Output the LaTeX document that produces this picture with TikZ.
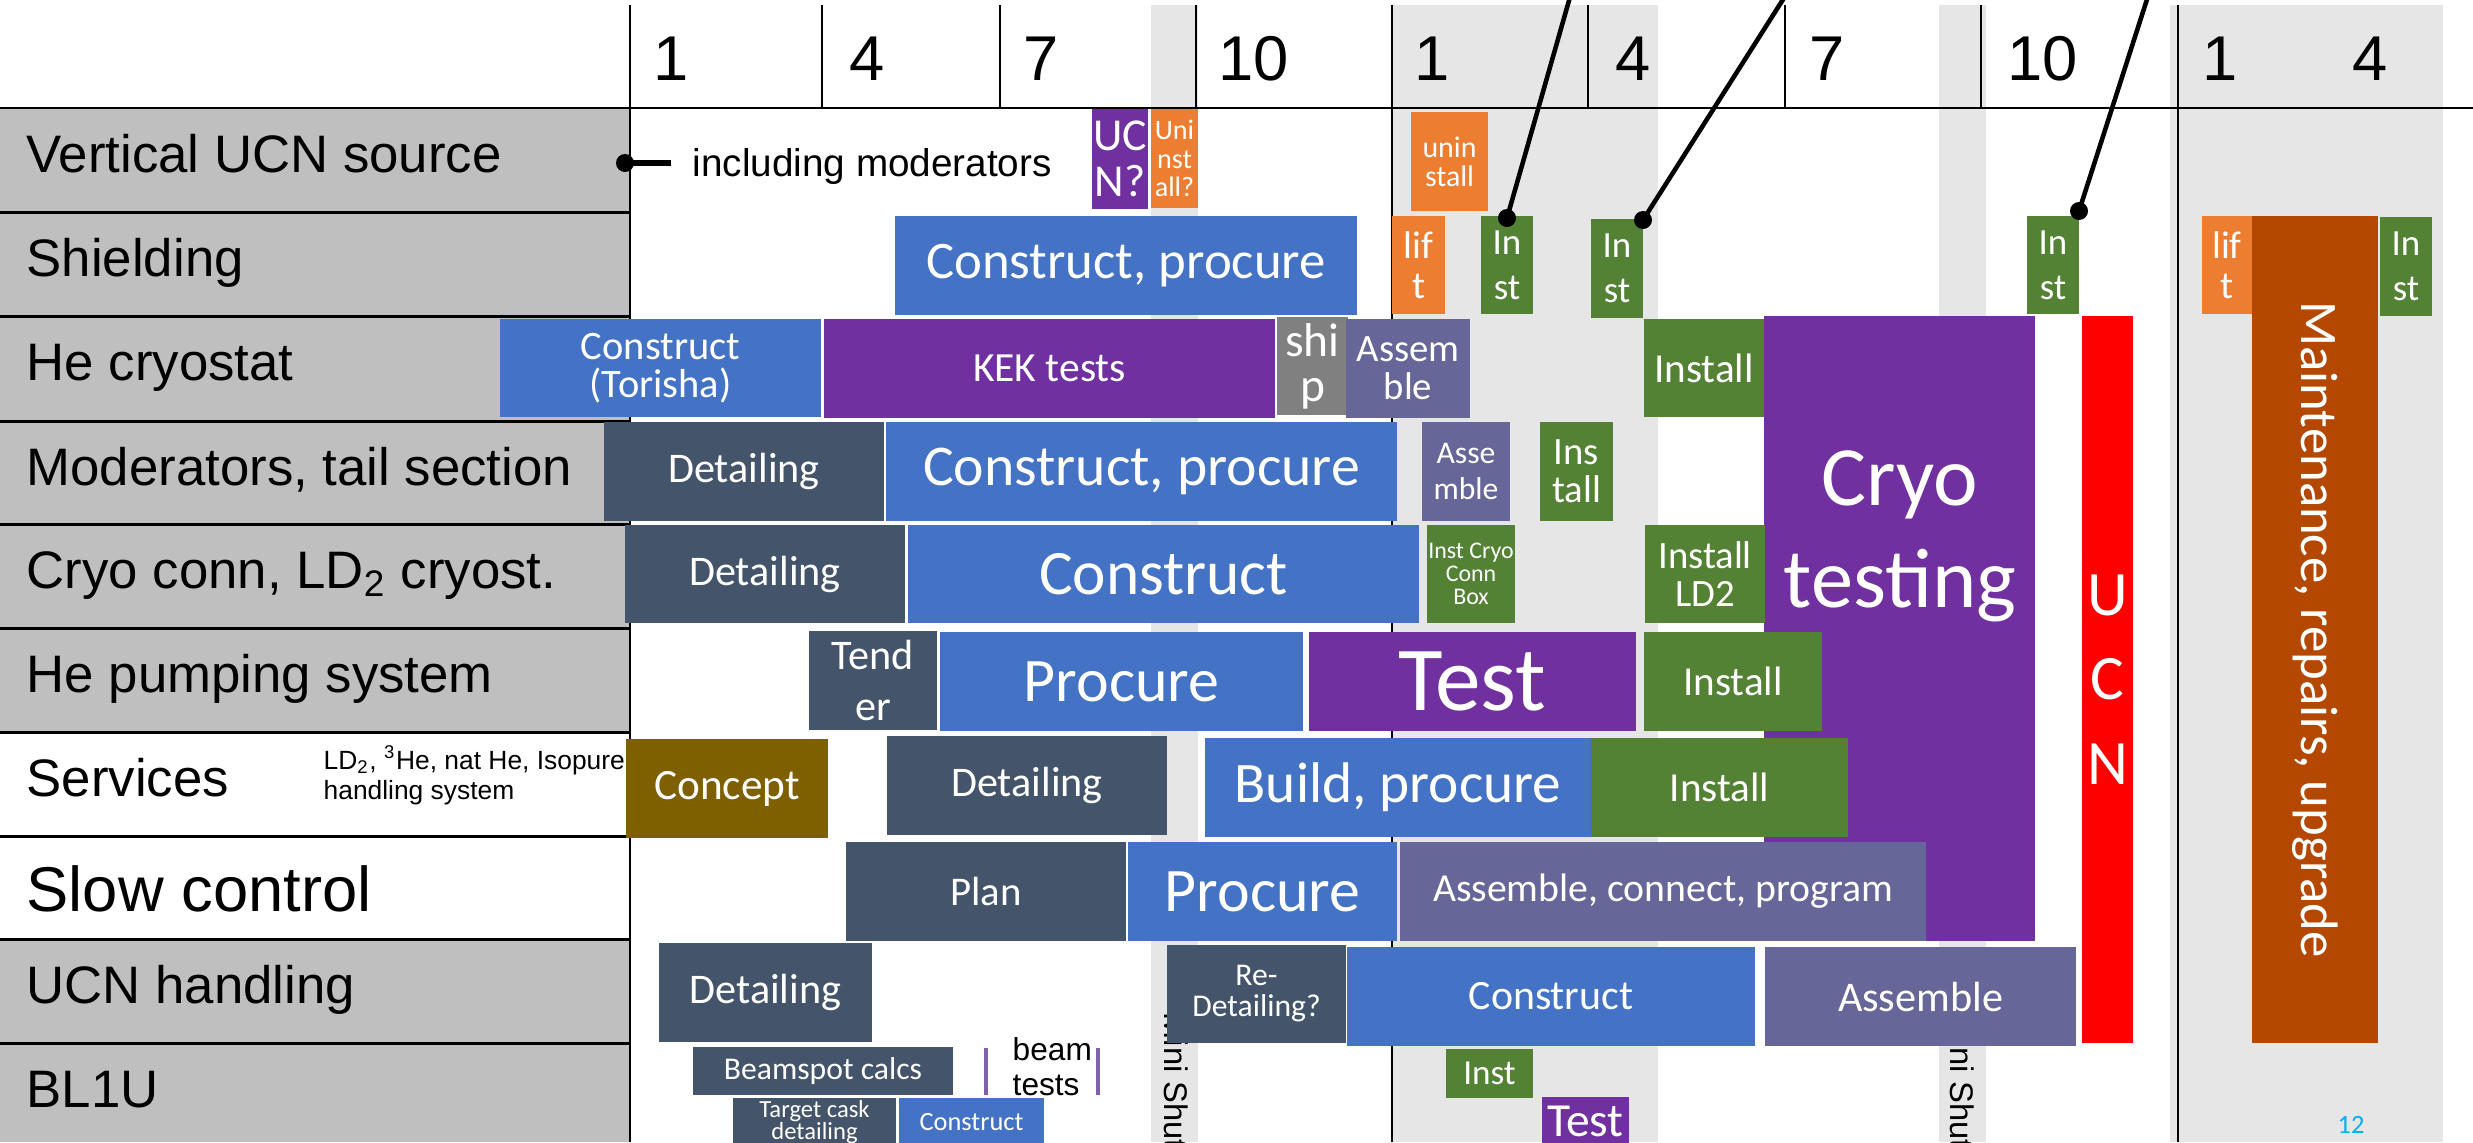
\documentclass[tikz,border=0pt]{standalone}
\usepackage{fontspec}
\setmainfont{Liberation Sans}
\newfontfamily\barfont{Carlito}

\definecolor{tblue}{RGB}{68,114,196}
\definecolor{tpurple}{RGB}{112,48,160}
\definecolor{torange}{RGB}{237,125,49}
\definecolor{tgreen}{RGB}{84,130,53}
\definecolor{tslate}{RGB}{68,84,106}
\definecolor{tlilac}{RGB}{102,102,153}
\definecolor{tgrey}{RGB}{128,128,128}
\definecolor{tolive}{RGB}{127,96,0}
\definecolor{tbrown}{RGB}{180,72,0}
\definecolor{tred}{RGB}{255,0,0}
\definecolor{bandgrey}{RGB}{230,230,230}
\definecolor{labelgrey}{RGB}{191,191,191}
\definecolor{pagecyan}{RGB}{0,176,240}
\definecolor{bracketpurple}{RGB}{128,96,168}

\newcommand\calfs[2]{\barfont\fontsize{#1}{#2}\selectfont}

\begin{document}
\begin{tikzpicture}[x=0.01cm, y=-0.01cm,
      task/.style={inner sep=0pt, outer sep=0pt, text=white, align=center,
                   font=\calfs{12}{14}},
      extent/.style 2 args={anchor=north west, minimum width=#1*0.01cm,
                            minimum height=#2*0.01cm},
      lbl/.style={anchor=base west, inner sep=0pt, font=\fontsize{15}{18}\selectfont},
      hdr/.style={anchor=base west, inner sep=0pt, font=\fontsize{18}{21}\selectfont},
      shut/.style={rotate=-90, anchor=west, inner sep=0pt, font=\fontsize{9.3}{11}\selectfont},
      gridline/.style={line width=0.7pt},
      rowline/.style={line width=0.85pt},
      pindot/.style={circle, fill=black, inner sep=0pt, minimum size=0.18cm},
      leader/.style={line width=1.3pt}]
  \useasboundingbox (0,0) rectangle (2473,1142);
  \clip (0,0) rectangle (2473,1142);

  % shutdown periods
  \fill[bandgrey] (1151,5) rectangle (1198,1142);
  \fill[bandgrey] (1392,5) rectangle (1658,1142);
  \fill[bandgrey] (1939,5) rectangle (1986,1142);
  \fill[bandgrey] (2170,5) rectangle (2443,1142);

  % label column and grid
  \fill[labelgrey] (0,108) rectangle (630,732);
  \fill[labelgrey] (0,939) rectangle (630,1142);
  \draw[rowline] (0,212) -- (630,212) (0,316) -- (630,316) (0,421) -- (630,421)
                 (0,524) -- (630,524) (0,628) -- (630,628) (0,732) -- (630,732)
                 (0,836) -- (630,836) (0,939) -- (630,939) (0,1043) -- (630,1043);
  \draw[rowline] (0,108) -- (2473,108);
  \draw[gridline] (630,5) -- (630,1142) (1392,5) -- (1392,1142) (2178,5) -- (2178,1142);
  \draw[gridline] (822,5) -- (822,108) (1000,5) -- (1000,108) (1196,5) -- (1196,108)
                  (1588,5) -- (1588,108) (1785,5) -- (1785,108) (1981,5) -- (1981,108);

  \node[hdr] (ya1) at (653,80) {1};
  \node[hdr] (ya4) at (849,80) {4};
  \node[hdr] (ya7) at (1023,80) {7};
  \node[hdr] (ya10) at (1218,80) {10};
  \node[hdr] (yb1) at (1414,80) {1};
  \node[hdr] (yb4) at (1615,80) {4};
  \node[hdr] (yb7) at (1809,80) {7};
  \node[hdr] (yb10) at (2007,80) {10};
  \node[hdr] (yc1) at (2202,80) {1};
  \node[hdr] (yc4) at (2352,80) {4};

  \node[lbl] (vucn) at (26,172) {Vertical UCN source};
  \node[lbl] (shld) at (26,276) {Shielding};
  \node[lbl] (hecr) at (26,380) {He cryostat};
  \node[lbl] (modr) at (26,485) {Moderators, tail section};
  \node[lbl] (ccon) at (26,588) {Cryo conn, LD\textsubscript{2} cryost.};
  \node[lbl] (hepm) at (26,692) {He pumping system};
  \node[lbl] (serv) at (26,796) {Services};
  \node[lbl, font=\fontsize{18}{21}\selectfont] (slow) at (26,911) {Slow control};
  \node[lbl] (ucnh) at (26,1003) {UCN handling};
  \node[lbl] (bl1u) at (26,1107) {BL1U};
  \node[anchor=north west, inner sep=0pt, align=left, font=\fontsize{7.5}{8.5}\selectfont]
    (servnote) at (323,745) {LD\textsubscript{2}, \textsuperscript{3}He, nat He, Isopure\\handling system};

  \node[shut] (mshuta) at (1176,1012) {Mini Shutdown};
  \node[shut] (mshutb) at (1962,1012) {Mini Shutdown};

  % long blocks first, shorter ones sit on top
  \node[task, fill=tpurple, extent={271}{625}] (cryotest) at (1764,316) {};
  \node[task, fill=tbrown, extent={126}{827}] (maint) at (2252,216) {};
  \node[task, fill=tred, extent={51}{727}, font=\calfs{18}{24}] (ucnrun) at (2082,316) {U\\C\\N};

  % vertical UCN source
  \node[task, fill=tpurple, extent={56}{100}, font=\calfs{13}{13}] (ucnq) at (1092,109) {UC\\N?};
  \node[task, fill=torange, extent={47}{99}, font=\calfs{8}{8}] (uninstq) at (1151,109) {Uni\\nst\\all?};
  \node[task, fill=torange, extent={77}{99}, font=\calfs{8.5}{8.2}] (uninst) at (1411,112) {unin\\stall};

  % shielding
  \node[task, fill=tblue, extent={462}{99}, font=\calfs{15}{18}] (shcon) at (895,216) {Construct, procure};
  \node[task, fill=torange, extent={53}{98}, font=\calfs{11}{11.4}] (shlifta) at (1392,216) {lif\\t};
  \node[task, fill=tgreen, extent={52}{98}, font=\calfs{10.5}{12.8}] (shinsta) at (1481,216) {In\\st};
  \node[task, fill=tgreen, extent={52}{99}, font=\calfs{10.5}{12.8}] (shinstb) at (1591,219) {In\\st};
  \node[task, fill=tgreen, extent={52}{98}, font=\calfs{10.5}{12.8}] (shinstc) at (2027,216) {In\\st};
  \node[task, fill=torange, extent={50}{98}, font=\calfs{11}{11.4}] (shliftb) at (2202,216) {lif\\t};
  \node[task, fill=tgreen, extent={52}{99}, font=\calfs{10.5}{12.8}] (shinstd) at (2380,217) {In\\st};

  % He cryostat
  \node[task, fill=tblue, extent={321}{98}, font=\calfs{11.5}{10.7}] (hecon) at (500,319) {Construct\\(Torisha)};
  \node[task, fill=tpurple, extent={451}{99}, font=\calfs{11.8}{14}] (hekek) at (824,319) {KEK tests};
  \node[task, fill=tgrey, extent={71}{98}, font=\calfs{13.5}{12.8}] (heship) at (1277,317) {shi\\p};
  \node[task, fill=tlilac, extent={124}{99}, font=\calfs{11}{10.9}] (heasm) at (1346,319) {Assem\\ble};
  \node[task, fill=tgreen, extent={120}{98}, font=\calfs{11.7}{14}] (heinst) at (1644,319) {Install};

  % moderators, tail section
  \node[task, fill=tslate, extent={280}{99}] (moddet) at (604,422) {Detailing};
  \node[task, fill=tblue, extent={511}{99}, font=\calfs{16.4}{19}] (modcon) at (886,422) {Construct, procure};
  \node[task, fill=tlilac, extent={88}{99}, font=\calfs{9}{10.4}] (modasm) at (1422,422) {Asse\\mble};
  \node[task, fill=tgreen, extent={73}{99}, font=\calfs{11}{10.9}] (modinst) at (1540,422) {Ins\\tall};

  % cryo connection, LD2 cryostat
  \node[task, fill=tslate, extent={280}{98}] (ccdet) at (625,525) {Detailing};
  \node[task, fill=tblue, extent={511}{98}, font=\calfs{18}{21}] (cccon) at (908,525) {Construct};
  \node[task, fill=tgreen, extent={88}{98}, font=\calfs{6.8}{6.6}] (ccbox) at (1427,525) {Inst Cryo\\Conn\\Box};
  \node[task, fill=tgreen, extent={120}{98}, font=\calfs{11}{10.6}] (ccld) at (1645,525) {Install\\LD2};

  % He pumping system
  \node[task, fill=tslate, extent={128}{99}, font=\calfs{12}{14.3}] (pmptend) at (809,631) {Tend\\er};
  \node[task, fill=tblue, extent={363}{99}, font=\calfs{17.6}{21}] (pmpproc) at (940,632) {Procure};
  \node[task, fill=tpurple, extent={327}{99}, font=\calfs{26}{30}] (pmptest) at (1309,632) {Test};
  \node[task, fill=tgreen, extent={178}{99}, font=\calfs{11.7}{14}] (pmpinst) at (1644,632) {Install};

  % services
  \node[task, fill=tolive, extent={202}{99}, font=\calfs{12.3}{14}] (svcon) at (626,739) {Concept};
  \node[task, fill=tslate, extent={280}{99}] (svdet) at (887,736) {Detailing};
  \node[task, fill=tblue, extent={386}{99}, font=\calfs{16.3}{19}] (svbuild) at (1205,738) {Build, procure};
  \node[task, fill=tgreen, extent={257}{99}, font=\calfs{11.7}{14}] (svinst) at (1591,738) {Install};

  % slow control
  \node[task, fill=tslate, extent={280}{99}, font=\calfs{11.6}{14}] (scplan) at (846,842) {Plan};
  \node[task, fill=tblue, extent={269}{99}, font=\calfs{17.6}{21}] (scproc) at (1128,842) {Procure};
  \node[task, fill=tlilac, extent={526}{99}, font=\calfs{11.3}{14}] (scasm) at (1400,842) {Assemble, connect, program};

  % UCN handling
  \node[task, fill=tslate, extent={213}{99}] (uhdet) at (659,943) {Detailing};
  \node[task, fill=tslate, extent={179}{98}, font=\calfs{9}{8.8}] (uhredet) at (1167,945) {Re-\\Detailing?};
  \node[task, fill=tblue, extent={408}{99}, font=\calfs{11.9}{14}] (uhcon) at (1347,947) {Construct};
  \node[task, fill=tlilac, extent={311}{99}] (uhasm) at (1765,947) {Assemble};

  % BL1U
  \node[task, fill=tslate, extent={260}{48}, font=\calfs{9}{11}] (blcalc) at (693,1047) {Beamspot calcs};
  \node[task, fill=tslate, extent={163}{48}, font=\calfs{7}{6.5}] (blcask) at (733,1098) {Target cask\\detailing};
  \node[task, fill=tblue, extent={145}{48}, font=\calfs{7.5}{9}] (blcon) at (899,1098) {Construct};
  \node[task, fill=tgreen, extent={87}{49}, font=\calfs{10}{12}] (blinst) at (1446,1049) {Inst};
  \node[task, fill=tpurple, extent={87}{48}, font=\calfs{13.5}{16}] (bltest) at (1542,1097) {Test};
  \draw[bracketpurple, line width=1.4pt] (986,1048) -- (986,1095) (1098,1048) -- (1098,1095);
  \node[anchor=north west, inner sep=0pt, align=left, font=\fontsize{9}{10}\selectfont]
    (beamtests) at (1012,1037) {beam\\tests};

  \node[task, font=\calfs{24}{29}] (cryotxt) at (1900,536) {Cryo\\testing};
  \node[task, rotate=-90, font=\calfs{15}{18}] (mainttxt) at (maint.center) {Maintenance, repairs, upgrade};

  \node[pindot] (srcdot) at (625,163) {};
  \coordinate (srctip) at (671,163);
  \draw[leader, line width=1.7pt] (srcdot.center) -- (srctip);
  \node[anchor=base west, inner sep=0pt, font=\fontsize{11}{13}\selectfont] (srcnote) at (692,176) {including moderators};

  \node[pindot] (pina) at (1507,218) {};
  \node[pindot] (pinb) at (1643,220) {};
  \node[pindot] (pinc) at (2079,211) {};
  \coordinate (tipa) at (1572,-10);
  \coordinate (tipb) at (1789,-10);
  \coordinate (tipc) at (2150,-10);
  \draw[leader] (pina.center) -- (tipa);
  \draw[leader] (pinb.center) -- (tipb);
  \draw[leader] (pinc.center) -- (tipc);

  \node[text=pagecyan, inner sep=0pt, font=\calfs{7.5}{9}] (pgno) at (2351,1125) {12};
\end{tikzpicture}
\end{document}
